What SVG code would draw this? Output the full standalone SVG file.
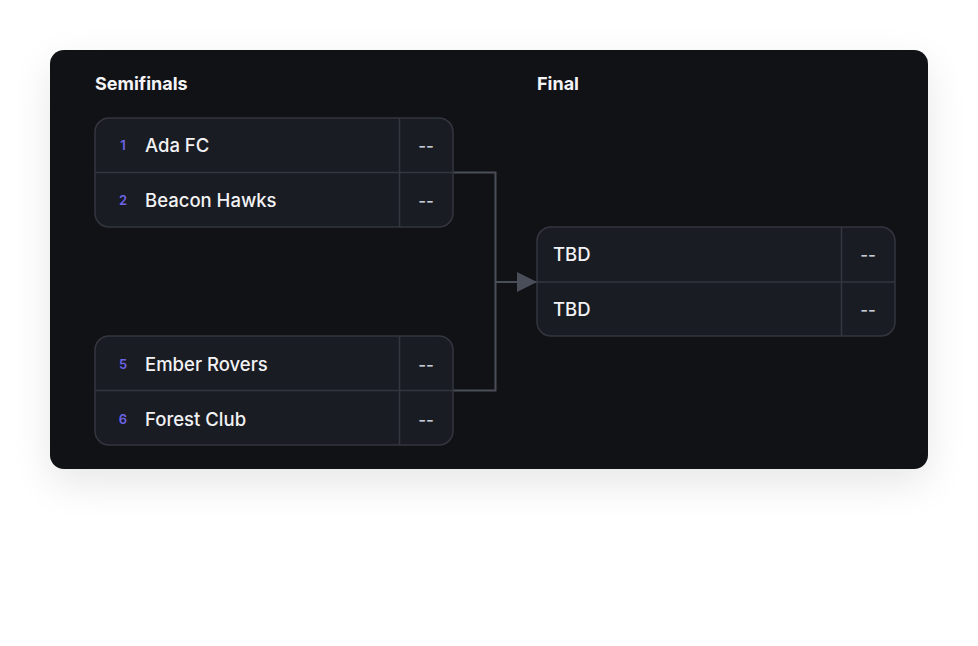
<svg xmlns="http://www.w3.org/2000/svg" width="978" height="646" viewBox="0 0 978 646">
<defs>
<filter id="sh" x="-20%" y="-30%" width="140%" height="170%" color-interpolation-filters="sRGB">
<feGaussianBlur in="SourceAlpha" stdDeviation="20"/>
<feOffset dy="14"/>
<feComponentTransfer><feFuncA type="linear" slope="0.1"/></feComponentTransfer>
<feMerge><feMergeNode/><feMergeNode in="SourceGraphic"/></feMerge>
</filter>
<marker id="arr" viewBox="0 0 10 10" refX="10" refY="5" markerWidth="24" markerHeight="20" markerUnits="userSpaceOnUse" orient="auto">
<path d="M0,0 L10,5 L0,10 Z" fill="#4a4e58"/>
</marker>
<style>
.box{fill:#1a1c23;stroke:#33363f;stroke-width:1.5}
.ln{stroke:#33363f;stroke-width:1.5}
.h{font-family:Inter,"Liberation Sans",sans-serif;font-weight:700;font-size:18px;fill:#f4f4f6}
.t{font-family:Inter,"Liberation Sans",sans-serif;font-weight:500;font-size:18.5px;fill:#f2f2f4}
.s{font-family:Inter,"Liberation Sans",sans-serif;font-weight:600;font-size:13px;fill:#6c63e6;text-anchor:middle}
.sc{font-family:Inter,"Liberation Sans",sans-serif;font-weight:500;font-size:17px;fill:#c9cbd4;text-anchor:middle}
.c{fill:none;stroke:#4a4e58;stroke-width:2}
</style>
</defs>
<rect width="978" height="646" fill="#ffffff"/>
<rect x="50" y="50" width="878" height="419" rx="14" fill="#111216" filter="url(#sh)"/>
<text class="h" x="95" y="90">Semifinals</text>
<text class="h" x="537" y="90">Final</text>
<g id="connectors">
<path class="c" d="M453,172.5 H495.5 V390.5 H453"/>
<path class="c" d="M495.5,282 H537" marker-end="url(#arr)"/>
</g>
<g id="match1">
<rect class="box" x="95" y="118" width="358" height="109" rx="14"/>
<line class="ln" x1="95" y1="172.5" x2="453" y2="172.5"/>
<line class="ln" x1="399.5" y1="118" x2="399.5" y2="227"/>
<text class="s" x="123" y="150">1</text>
<text class="t" x="145" y="152">Ada FC</text>
<text class="sc" x="426" y="152">--</text>
<text class="s" x="123" y="205">2</text>
<text class="t" x="145" y="207">Beacon Hawks</text>
<text class="sc" x="426" y="207">--</text>
</g>
<g id="match2">
<rect class="box" x="95" y="336" width="358" height="109" rx="14"/>
<line class="ln" x1="95" y1="390.5" x2="453" y2="390.5"/>
<line class="ln" x1="399.5" y1="336" x2="399.5" y2="445"/>
<text class="s" x="123" y="369">5</text>
<text class="t" x="145" y="371">Ember Rovers</text>
<text class="sc" x="426" y="371">--</text>
<text class="s" x="123" y="424">6</text>
<text class="t" x="145" y="426">Forest Club</text>
<text class="sc" x="426" y="426">--</text>
</g>
<g id="final">
<rect class="box" x="537" y="227" width="358" height="109" rx="14"/>
<line class="ln" x1="537" y1="282" x2="895" y2="282"/>
<line class="ln" x1="841.5" y1="227" x2="841.5" y2="336"/>
<text class="t" x="553" y="261">TBD</text>
<text class="sc" x="868" y="261">--</text>
<text class="t" x="553" y="316">TBD</text>
<text class="sc" x="868" y="316">--</text>
</g>
</svg>
